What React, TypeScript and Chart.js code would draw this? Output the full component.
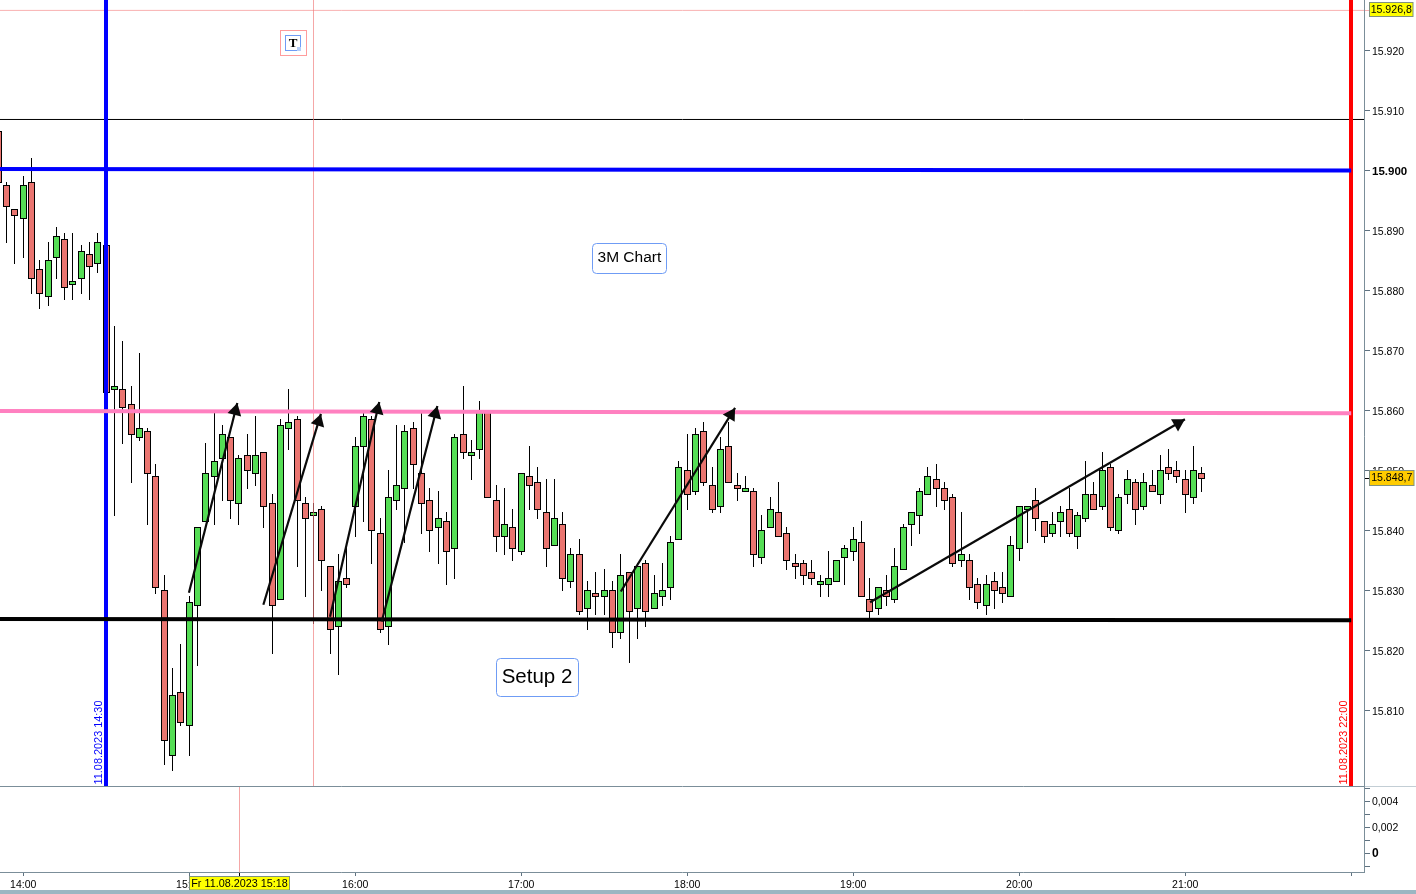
import React, { useEffect, useRef } from "react";
import { Chart, registerables } from "chart.js";

Chart.register(...registerables);

// One bar every 3 minutes; times are minutes after midnight on 11.08.2023.
const firstBarMinute = 831;
const barMinutes = 3;

const opens = [
  15906.5, 15897.5, 15893.5,
  15892, 15898, 15883.5, 15879, 15885.5, 15888.5, 15881, 15882, 15886, 15884.5,
  15887.5, 15863.5, 15863.5, 15861, 15855.5, 15856.5, 15849, 15830, 15802.5, 15813,
  15807.5, 15827.5, 15841.5, 15849, 15852, 15855.5, 15844.5, 15852.5, 15849.5, 15853,
  15844.5, 15828.5, 15857, 15858.5, 15844.5, 15842.5, 15843.5, 15834, 15824, 15832,
  15844, 15854, 15858.5, 15839.5, 15824, 15845, 15847, 15857, 15849.5, 15845,
  15840.5, 15841.5, 15837, 15856, 15852.5, 15853.5, 15860, 15845, 15839, 15840.5,
  15836.5, 15849, 15848, 15843, 15837.5, 15841, 15831.5, 15836, 15827, 15829.5,
  15829, 15830, 15823, 15833, 15827, 15834.5, 15827, 15829, 15830.5, 15838.5,
  15850, 15846.5, 15856.5, 15847.5, 15844, 15854, 15847.5, 15846.5, 15846.5, 15835.5,
  15840.5, 15843, 15839.5, 15834.5, 15834.5, 15833, 15831, 15831, 15831.5, 15835.5,
  15836.5, 15838, 15828.5, 15827, 15830, 15828.5, 15833.5, 15841, 15842.5, 15846,
  15848.5, 15847, 15845.5, 15835, 15835, 15831, 15827.5, 15831.5, 15830.5, 15829,
  15837, 15843.5, 15845, 15841.5, 15839.5, 15841.5, 15843.5, 15839, 15842, 15846,
  15844, 15850.5, 15840, 15846, 15848, 15844, 15847.5, 15846, 15850.5, 15850,
  15848.5, 15845.5, 15849.5,
];
const highs = [
  15906.5, 15898, 15893.5,
  15899, 15902, 15885, 15888, 15890.5, 15889.5, 15889.5, 15887.5, 15888, 15889.5,
  15887.5, 15874, 15871.5, 15864, 15869.5, 15857, 15851, 15832.5, 15817, 15821,
  15829, 15840.5, 15854.5, 15859.5, 15857.5, 15855.5, 15852.5, 15856, 15859, 15853,
  15846, 15858.5, 15863.5, 15859, 15845.5, 15844.5, 15844, 15834, 15836, 15838,
  15855.5, 15859.5, 15859, 15842, 15850, 15857.5, 15857.5, 15858, 15860, 15847,
  15846.5, 15843, 15856, 15864, 15855, 15861.5, 15860, 15847.5, 15847, 15843.5,
  15849.5, 15854, 15850.5, 15848.5, 15848.5, 15843, 15837, 15838.5, 15831.5, 15833,
  15833.5, 15831.5, 15836, 15833, 15834.5, 15835, 15832.5, 15834.5, 15839, 15851.5,
  15856, 15857, 15858, 15850.5, 15855.5, 15858, 15849.5, 15849, 15847, 15842.5,
  15845.5, 15848, 15840.5, 15836, 15835, 15835, 15832.5, 15836.5, 15835, 15837.5,
  15840.5, 15841.5, 15832, 15830.5, 15832.5, 15837, 15841, 15843, 15847, 15850.5,
  15851, 15848, 15846, 15843, 15836, 15832, 15832.5, 15833, 15833, 15839,
  15844, 15844, 15847, 15841.5, 15843, 15844, 15847, 15843, 15851.5, 15848,
  15853, 15851, 15846, 15850, 15848.5, 15849.5, 15850, 15852.5, 15853.5, 15851.5,
  15850, 15854, 15850.5,
];
const lows = [
  15898, 15888, 15884.5,
  15885.5, 15879.5, 15877, 15877.5, 15882, 15878.5, 15878.5, 15879.5, 15878.5, 15883,
  15863, 15842.5, 15854.5, 15848, 15855, 15841, 15829.5, 15801, 15800, 15807.5,
  15802.5, 15817.5, 15841.5, 15841, 15845, 15842, 15841, 15847, 15847.5, 15840.5,
  15819.5, 15828.5, 15853.5, 15834, 15829, 15824.5, 15830, 15819.5, 15816, 15830.5,
  15839, 15841.5, 15834.5, 15823, 15821, 15843.5, 15838, 15847, 15839.5, 15836.5,
  15834.5, 15831, 15832, 15852, 15848.5, 15852, 15845.5, 15836.5, 15836, 15835,
  15836, 15843.5, 15842, 15834, 15837.5, 15830, 15830.5, 15826, 15823.5, 15826,
  15826, 15820.5, 15822, 15818, 15822, 15824, 15827, 15827.5, 15828.5, 15838.5,
  15843.5, 15846, 15847.5, 15843, 15843, 15848, 15845, 15846.5, 15834, 15834.5,
  15840.5, 15839, 15833.5, 15832, 15831, 15831, 15829, 15829, 15831.5, 15831,
  15835, 15829, 15825.5, 15826, 15827.5, 15828, 15833.5, 15837.5, 15839.5, 15846,
  15844, 15843.5, 15834, 15834, 15828.5, 15827, 15826, 15827, 15828, 15829,
  15835, 15838, 15840, 15838, 15839, 15839, 15839, 15837, 15841.5, 15843.5,
  15843.5, 15840, 15839.5, 15844.5, 15841, 15843.5, 15846.5, 15844.5, 15848.5, 15848,
  15843, 15844.5, 15846.5,
];
const closes = [
  15898, 15894, 15892.5,
  15897.5, 15882, 15879.5, 15885, 15889, 15880.5, 15881.5, 15886.5, 15884, 15888,
  15863, 15864, 15860.5, 15856, 15857, 15849.5, 15830.5, 15805, 15812.5, 15808,
  15828, 15840.5, 15849.5, 15851.5, 15856, 15845, 15852, 15850, 15852.5, 15844,
  15827.5, 15857.5, 15858, 15845, 15842, 15843, 15835, 15823.5, 15831.5, 15831,
  15854, 15859, 15840, 15823.5, 15845.5, 15847.5, 15856.5, 15851, 15844.5, 15840,
  15842, 15836.5, 15855.5, 15853, 15853, 15860, 15845.5, 15839, 15841, 15837,
  15849.5, 15847.5, 15843.5, 15837, 15842, 15832, 15836, 15826.5, 15830, 15829,
  15830, 15823, 15832.5, 15826.5, 15834, 15826.5, 15829.5, 15830, 15838, 15850.5,
  15846, 15856, 15848, 15843.5, 15853.5, 15848, 15847, 15847, 15836, 15840,
  15843.5, 15839, 15835, 15834, 15832.5, 15832, 15831.5, 15832, 15835, 15837,
  15838.5, 15829, 15826.5, 15830.5, 15829, 15834, 15840.5, 15843, 15846.5, 15849,
  15847, 15845, 15834.5, 15836, 15830.5, 15828, 15831, 15830, 15829.5, 15837.5,
  15844, 15844, 15842, 15839, 15841, 15843, 15839.5, 15842.5, 15846, 15843.5,
  15850, 15840.5, 15845.5, 15848.5, 15843.5, 15848, 15846.5, 15850, 15849.5, 15849,
  15846, 15850, 15848.7,
];

// Drawn levels and time markers
const timeAxisHours = [14, 15, 16, 17, 18, 19, 20, 21, 22];
const priceTicks = [15810, 15820, 15830, 15840, 15850, 15860, 15870, 15880, 15890, 15900, 15910, 15920];
const indicatorTicks = [-0.001, 0, 0.001, 0.002, 0.003, 0.004, 0.005];
const blueLevel = [15900.2, 15899.95];
const pinkLevel = [15859.9, 15859.5];
const blackLevel = [15825.2, 15825.0];
const thinBlackLevel = 15908.47;
const lightRedLevel = 15926.65;
const sessionStartMinute = 870;
const sessionEndMinute = 1320;
const crosshairMinute = 945;
const cursorMinute = 918;
const lastPrice = 15848.7;
// Arrows: start minute, start price, tip minute, tip price
const arrows = [
  [899.9, 15829.6, 917.4, 15861.2],
  [926.8, 15827.6, 947.6, 15859.4],
  [950.9, 15825.6, 968.7, 15861.4],
  [969.6, 15824.8, 989.7, 15860.7],
  [1056, 15829.8, 1097.3, 15860.4],
  [1146.1, 15828, 1259.9, 15858.5],
];
const chartNotes = [
  { text: "3M Chart", minute: 1059.1, price: 15885.45, w: 74, h: 30, size: 15.5 },
  { text: "Setup 2", minute: 1025.7, price: 15815.5, w: 82, h: 38, size: 20.5 },
];
const iconPosition = [937.5, 15921.2];
const blueStamp = "11.08.2023 14:30";
const redStamp = "11.08.2023 22:00";
const cursorStamp = "Fr 11.08.2023 15:18";
const topPriceStamp = "15.926,8";
const lastPriceStamp = "15.848,7";

const FONT = '"Liberation Sans", Arial, sans-serif';
const yMax = 15900 + 170.3 / 6;
const yMin = 15900 - (786 - 170.3) / 6;
const xPerPx = 60 / 166;
const xMin = 840 - 23.2 * xPerPx;
const xMax = xMin + 1365 * xPerPx;
const barTime = (i: number) => firstBarMinute + barMinutes * i;

const snapPlugin = {
  id: "snap",
  afterDatasetsUpdate(chart: any) {
    chart.data.datasets.forEach((ds: any, i: number) => {
      const meta = chart.getDatasetMeta(i);
      if (ds.snapBar) {
        for (const el of meta.data) {
          el.x = Math.floor(el.x) + 0.5;
          const a = Math.round(Math.min(el.y, el.base));
          const b = Math.round(Math.max(el.y, el.base)) + 1;
          el.y = a;
          el.base = b;
          el.height = b - a;
        }
      }
      if (ds.snapLine === "round") for (const el of meta.data) el.x = Math.round(el.x);
      if (ds.snapLine === "half") for (const el of meta.data) el.x = Math.floor(el.x) + 0.5;
    });
  },
};

const roundRect = (ctx: any, x: number, y: number, w: number, h: number, r: number) => {
  ctx.beginPath();
  ctx.roundRect(x, y, w, h, r);
};

const overlayPlugin = {
  id: "overlay",
  afterDatasetsDraw(chart: any) {
    const { ctx, scales } = chart;
    const sx = scales.x;
    const sy = scales.y;
    ctx.save();
    // arrow heads
    ctx.fillStyle = "#0a0a0a";
    for (const [m0, p0, m1, p1] of arrows) {
      const x0 = sx.getPixelForValue(m0);
      const y0 = sy.getPixelForValue(p0);
      const x1 = sx.getPixelForValue(m1);
      const y1 = sy.getPixelForValue(p1);
      const len = Math.hypot(x1 - x0, y1 - y0);
      const dx = (x1 - x0) / len;
      const dy = (y1 - y0) / len;
      const bx = x1 - dx * 12;
      const by = y1 - dy * 12;
      ctx.beginPath();
      ctx.moveTo(x1, y1);
      ctx.lineTo(bx - dy * 7, by + dx * 7);
      ctx.lineTo(bx + dy * 7, by - dx * 7);
      ctx.closePath();
      ctx.fill();
    }
    // note boxes
    for (const n of chartNotes) {
      const cx = sx.getPixelForValue(n.minute);
      const cy = sy.getPixelForValue(n.price);
      const left = Math.round(cx - n.w / 2) + 0.5;
      const top = Math.round(cy - n.h / 2) + 0.5;
      roundRect(ctx, left, top, n.w, n.h, 4);
      ctx.fillStyle = "#ffffff";
      ctx.fill();
      ctx.strokeStyle = "#6f9cf5";
      ctx.lineWidth = 1;
      ctx.stroke();
      ctx.fillStyle = "#000000";
      ctx.font = `${n.size}px ${FONT}`;
      ctx.textAlign = "center";
      ctx.textBaseline = "middle";
      ctx.fillText(n.text, cx, cy + 0.5);
    }
    // text tool icon
    const ix = Math.round(sx.getPixelForValue(iconPosition[0]));
    const iy = Math.round(sy.getPixelForValue(iconPosition[1]));
    ctx.lineWidth = 1;
    ctx.strokeStyle = "#ff9c9c";
    ctx.strokeRect(ix - 12.5, iy - 12.5, 26, 25);
    ctx.strokeStyle = "#6f9cf5";
    ctx.strokeRect(ix - 7.5, iy - 7.5, 15, 15);
    ctx.fillStyle = "#b7cff8";
    ctx.fillRect(ix + 4, iy + 4, 4, 4);
    ctx.fillStyle = "#000000";
    ctx.font = `bold 13px "Liberation Serif", serif`;
    ctx.textAlign = "center";
    ctx.textBaseline = "middle";
    ctx.fillText("T", ix, iy + 0.5);
    // vertical stamps
    const stamp = (text: string, minute: number, color: string) => {
      ctx.save();
      ctx.translate(sx.getPixelForValue(minute) - 7.5, sy.bottom - 1.5);
      ctx.rotate(-Math.PI / 2);
      ctx.fillStyle = color;
      ctx.font = `10.9px ${FONT}`;
      ctx.textAlign = "left";
      ctx.textBaseline = "middle";
      ctx.fillText(text, 0, 0);
      ctx.restore();
    };
    stamp(blueStamp, sessionStartMinute, "#0000ff");
    stamp(redStamp, sessionEndMinute, "#ff0000");
    ctx.restore();
  },
  afterDraw(chart: any) {
    const { ctx, scales, chartArea, width } = chart;
    const sx = scales.x;
    const sy = scales.y;
    ctx.save();
    // panel frame: the divider, the price axis line and the time axis line
    const div = Math.floor(sy.bottom) + 0.5;
    const axisX = chartArea.right - 0.5;
    const axisY = chartArea.bottom + 0.5;
    ctx.lineWidth = 1;
    ctx.strokeStyle = "#c3ced5";
    ctx.beginPath();
    ctx.moveTo(chartArea.right, div);
    ctx.lineTo(width, div);
    ctx.stroke();
    ctx.strokeStyle = "#7b8e99";
    ctx.beginPath();
    ctx.moveTo(0, div);
    ctx.lineTo(chartArea.right, div);
    ctx.moveTo(axisX, 0);
    ctx.lineTo(axisX, axisY);
    ctx.moveTo(0, axisY);
    ctx.lineTo(chartArea.right, axisY);
    ctx.stroke();
    // cursor in the lower panel
    const cx = Math.round(sx.getPixelForValue(cursorMinute)) + 0.5;
    ctx.strokeStyle = "#f5a7a7";
    ctx.beginPath();
    ctx.moveTo(cx, div + 0.5);
    ctx.lineTo(cx, chartArea.bottom);
    ctx.stroke();
    ctx.strokeStyle = "#000000";
    ctx.beginPath();
    ctx.moveTo(cx, chartArea.bottom + 1);
    ctx.lineTo(cx, chartArea.bottom + 4);
    ctx.stroke();

    const tag = (left: number, top: number, w: number, h: number, fill: string, text: string, size = 10.6) => {
      ctx.fillStyle = fill;
      ctx.fillRect(left, top, w, h);
      ctx.strokeStyle = "#7f917f";
      ctx.lineWidth = 1;
      ctx.strokeRect(left, top, w, h);
      ctx.fillStyle = "#000000";
      ctx.font = `${size}px ${FONT}`;
      ctx.textAlign = "center";
      ctx.textBaseline = "middle";
      ctx.fillText(text, left + w / 2, top + h / 2 + 0.5);
    };
    // cursor time tag, hides the right of the 15:00 label
    tag(Math.floor(cx - 50) + 0.5, 876.5, 100, 13.5, "#ffff00", cursorStamp, 10.8);
    // axis price tags
    const topY = sy.getPixelForValue(lightRedLevel);
    ctx.strokeStyle = "#f9b1b1";
    ctx.beginPath();
    ctx.moveTo(chartArea.right, Math.floor(topY) + 0.5);
    ctx.lineTo(chartArea.right + 5, Math.floor(topY) + 0.5);
    ctx.stroke();
    tag(1369.5, Math.round(topY) - 7.5, 43.5, 14, "#ffff00", topPriceStamp);
    const lastY = Math.floor(sy.getPixelForValue(lastPrice)) + 0.5;
    ctx.strokeStyle = "#000000";
    ctx.beginPath();
    ctx.moveTo(chartArea.right, lastY);
    ctx.lineTo(chartArea.right + 5, lastY);
    ctx.stroke();
    tag(1369.5, lastY - 8, 44.5, 15, "#ffcc00", lastPriceStamp);
    ctx.restore();
  },
};

const line = (
  points: { x: number; y: number }[],
  color: string,
  width: number,
  order: number,
  extra: any = {},
) => ({
  type: "line",
  data: points,
  borderColor: color,
  borderWidth: width,
  pointRadius: 0,
  fill: false,
  tension: 0,
  order,
  ...extra,
});

const noPadding = (s: any) => {
  s.paddingLeft = 0;
  s.paddingRight = 0;
  s.paddingTop = 0;
  s.paddingBottom = 0;
};

export default function App() {
  const ref = useRef<HTMLCanvasElement | null>(null);

  useEffect(() => {
    document.body.style.margin = "0";
    document.body.style.background = "#ffffff";
    const canvas = ref.current;
    if (!canvas) return;
    const wicks = lows.map((l, i) => ({ x: barTime(i), y: [l, highs[i]] }));
    const bodies = opens.map((o, i) => ({ x: barTime(i), y: [o, closes[i]] }));
    const bodyColors = opens.map((o, i) => (closes[i] > o ? "#55dd55" : "#ea7570"));
    const chart = new Chart(canvas, {
      type: "bar",
      plugins: [snapPlugin, overlayPlugin],
      data: {
        datasets: [
          {
            type: "bar",
            data: wicks,
            backgroundColor: "#000000",
            borderWidth: 0,
            barThickness: 1,
            grouped: false,
            inflateAmount: 0,
            order: 20,
            snapBar: true,
          },
          {
            type: "bar",
            data: bodies,
            backgroundColor: bodyColors,
            borderColor: "#000000",
            borderWidth: 1,
            borderSkipped: false,
            barThickness: 7,
            grouped: false,
            inflateAmount: 0,
            order: 19,
            snapBar: true,
          },
          line(
            [{ x: xMin, y: thinBlackLevel }, { x: xMax, y: thinBlackLevel }],
            "#000000", 1, 18,
          ),
          line(
            [{ x: xMin, y: lightRedLevel }, { x: xMax, y: lightRedLevel }],
            "#f9b1b1", 1, 18,
          ),
          line(
            [{ x: crosshairMinute, y: yMin }, { x: crosshairMinute, y: yMax }],
            "rgba(240,120,120,0.65)", 1, 17, { snapLine: "half" },
          ),
          line(
            [{ x: sessionStartMinute, y: yMin }, { x: sessionStartMinute, y: yMax }],
            "#0000ff", 4, 16, { snapLine: "round" },
          ),
          line(
            [{ x: sessionEndMinute, y: yMin }, { x: sessionEndMinute, y: yMax }],
            "#ff0000", 4, 16, { snapLine: "round" },
          ),
          line(
            [{ x: xMin, y: pinkLevel[0] }, { x: sessionEndMinute, y: pinkLevel[1] }],
            "#ff80c0", 4, 15,
          ),
          line(
            [{ x: xMin, y: blueLevel[0] }, { x: sessionEndMinute, y: blueLevel[1] }],
            "#0000ff", 4, 14,
          ),
          line(
            [{ x: xMin, y: blackLevel[0] }, { x: sessionEndMinute, y: blackLevel[1] }],
            "#000000", 4, 13,
          ),
          ...arrows.map(([m0, p0, m1, p1]) =>
            line([{ x: m0, y: p0 }, { x: m1, y: p1 }], "#0a0a0a", 2.2, 5),
          ),
        ] as any,
      },
      options: {
        responsive: false,
        animation: false,
        devicePixelRatio: 1,
        events: [],
        layout: { padding: 0 },
        plugins: { legend: { display: false }, tooltip: { enabled: false }, title: { display: false } },
        scales: {
          x: {
            type: "linear",
            position: "bottom",
            min: xMin,
            max: xMax,
            offset: false,
            afterBuildTicks: (s: any) => {
              s.ticks = timeAxisHours.map((h) => ({ value: h * 60 }));
            },
            afterFit: (s: any) => {
              s.height = 18;
              noPadding(s);
            },
            ticks: {
              autoSkip: false,
              maxRotation: 0,
              minRotation: 0,
              padding: 3,
              color: "#000000",
              font: { family: FONT, size: 10.5 },
              callback: (v: any) => (v === 1320 ? "" : `${v / 60}:00`),
            },
            grid: { offset: false, drawOnChartArea: false, drawTicks: true, tickLength: 4, color: "#5f7280" },
            border: { display: false },
          },
          y: {
            type: "linear",
            position: "right",
            stack: "panels",
            stackWeight: 786,
            min: yMin,
            max: yMax,
            afterBuildTicks: (s: any) => {
              s.ticks = priceTicks.map((v) => ({ value: v }));
            },
            afterFit: (s: any) => {
              s.width = 51;
              noPadding(s);
            },
            ticks: {
              autoSkip: false,
              padding: 2,
              labelOffset: 1.5,
              color: "#000000",
              font: (c: any) =>
                c.tick && c.tick.value === 15900
                  ? { family: FONT, size: 11.5, weight: "bold" }
                  : { family: FONT, size: 10.5 },
              callback: (v: any) => `15.${String(v - 15000).padStart(3, "0")}`,
            },
            grid: { drawOnChartArea: false, drawTicks: true, tickLength: 5, color: "#5f7280" },
            border: { display: false },
          },
          y2: {
            type: "linear",
            position: "right",
            stack: "panels",
            stackWeight: 86,
            min: -0.0014615,
            max: 0.005154,
            afterBuildTicks: (s: any) => {
              s.ticks = indicatorTicks.map((v) => ({ value: v }));
            },
            afterFit: (s: any) => {
              s.width = 51;
              noPadding(s);
            },
            ticks: {
              autoSkip: false,
              padding: 2,
              labelOffset: 1,
              color: "#000000",
              font: (c: any) =>
                c.tick && c.tick.value === 0
                  ? { family: FONT, size: 12, weight: "bold" }
                  : { family: FONT, size: 10.5 },
              callback: (v: any) => {
                const n = Math.round(v * 1000);
                if (n === 0) return "0";
                return n % 2 === 0 ? `0,00${n}` : "";
              },
            },
            grid: { drawOnChartArea: false, drawTicks: true, tickLength: 5, color: "#5f7280" },
            border: { display: false },
          },
        },
      } as any,
    });
    return () => chart.destroy();
  }, []);

  return (
    <div style={{ position: "absolute", left: 0, top: 0, width: 1416, height: 894, background: "#ffffff" }}>
      <canvas ref={ref} width={1416} height={890} style={{ display: "block", width: 1416, height: 890 }} />
      <div style={{ width: 1416, height: 4, background: "#9bb6c2" }} />
    </div>
  );
}
